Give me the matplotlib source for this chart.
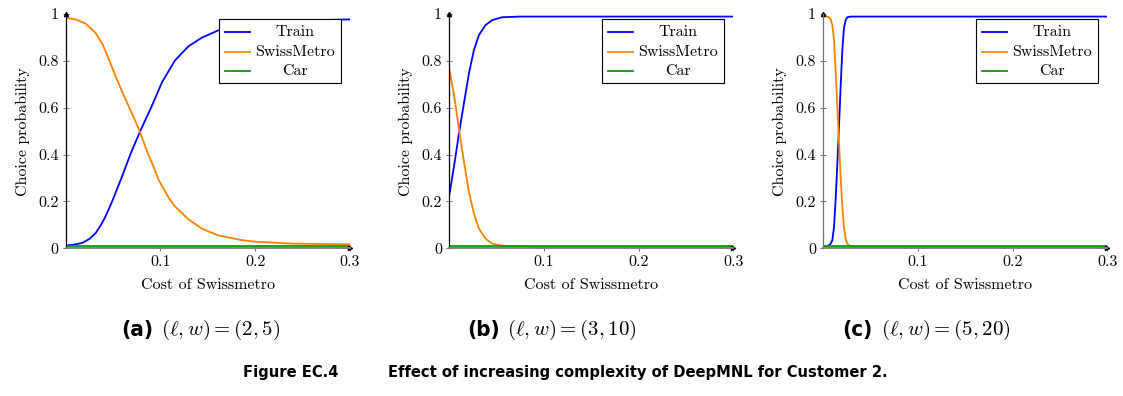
import matplotlib
matplotlib.use("Agg")
import matplotlib.pyplot as plt
from matplotlib.patches import Rectangle
from matplotlib.lines import Line2D

plt.rcParams["font.family"] = "serif"
plt.rcParams["font.serif"] = ["cmr10"]
plt.rcParams["mathtext.fontset"] = "cm"
plt.rcParams["axes.formatter.use_mathtext"] = True

# values, one list per panel / series
a_train_x = [0.0, 0.008, 0.0175, 0.025, 0.0316, 0.037, 0.042, 0.049, 0.0596, 0.0684,
             0.0786, 0.0905, 0.1018, 0.1155, 0.1295, 0.1436, 0.161, 0.2, 0.266, 0.3]
a_train = [0.012, 0.015, 0.023, 0.040, 0.065, 0.098, 0.136, 0.200, 0.308, 0.403,
           0.500, 0.604, 0.710, 0.803, 0.862, 0.899, 0.930, 0.958, 0.974, 0.977]
a_metro_x = [0.0, 0.0105, 0.021, 0.0316, 0.039, 0.0456, 0.0526, 0.0596, 0.0667, 0.0725,
             0.078, 0.086, 0.0925, 0.098, 0.1088, 0.1155, 0.1295, 0.1436, 0.161,
             0.1856, 0.2, 0.2386, 0.3]
a_metro = [0.984, 0.977, 0.959, 0.919, 0.870, 0.806, 0.735, 0.668, 0.604, 0.552,
           0.500, 0.412, 0.350, 0.293, 0.215, 0.178, 0.124, 0.084, 0.055,
           0.035, 0.028, 0.020, 0.017]

b_x = [0.0, 0.0053, 0.0105, 0.0158, 0.021, 0.0263, 0.0316, 0.0386, 0.0456,
       0.056, 0.074, 0.100, 0.300]
b_train = [0.219, 0.350, 0.490, 0.620, 0.746, 0.846, 0.910, 0.953, 0.974,
           0.986, 0.989, 0.989, 0.989]
b_metro = [0.772, 0.654, 0.511, 0.369, 0.241, 0.148, 0.084, 0.041, 0.020,
           0.011, 0.008, 0.007, 0.007]

c_x = [0.0, 0.0046, 0.0063, 0.0081, 0.0098, 0.0116, 0.0133, 0.0151, 0.0168,
       0.0186, 0.0204, 0.0221, 0.0239, 0.0256, 0.029, 0.034, 0.300]
c_train = [0.008, 0.010, 0.013, 0.020, 0.034, 0.090, 0.205, 0.360, 0.510,
           0.690, 0.846, 0.940, 0.974, 0.986, 0.989, 0.989, 0.989]
c_metro = [0.991, 0.989, 0.985, 0.977, 0.953, 0.889, 0.760, 0.604, 0.460,
           0.305, 0.177, 0.091, 0.041, 0.020, 0.008, 0.007, 0.007]

car_level = 0.008

panels = [
    ("(a)", r"$(\ell, w) = (2, 5)$", a_train_x, a_train, a_metro_x, a_metro),
    ("(b)", r"$(\ell, w) = (3, 10)$", b_x, b_train, b_x, b_metro),
    ("(c)", r"$(\ell, w) = (5, 20)$", c_x, c_train, c_x, c_metro),
]
series_names = ["Train", "SwissMetro", "Car"]
colors = ["#0000ff", "#ff8000", "#00a000"]

x_ticks = [0.1, 0.2, 0.3]
y_ticks = [0, 0.2, 0.4, 0.6, 0.8, 1]
y_ticklabels = ["0", "0.2", "0.4", "0.6", "0.8", "1"]

W, H = 1123, 396
fig = plt.figure(figsize=(W / 100, H / 100), dpi=100)

ax_lefts = [65.7, 449, 823]          # pixel positions of the axes
ax_w, ax_top, ax_bot = 284.3, 14, 248.3
tag_right = [153, 500, 873]
math_left = [161, 507, 881]
FS = 11.5
SANS = ["DejaVu Sans"]

for i, (tag, sub, tx, train, mx, metro) in enumerate(panels):
    ax = fig.add_axes([ax_lefts[i] / W, (H - ax_bot) / H, ax_w / W, (ax_bot - ax_top) / H])
    ax.plot(tx, train, color=colors[0], lw=1.3)
    ax.plot(mx, metro, color=colors[1], lw=1.3)
    ax.plot([0, 0.3], [car_level, car_level], color=colors[2], lw=1.3)
    ax.set_xlim(0, 0.3)
    ax.set_ylim(0, 1)
    ax.set_xticks(x_ticks)
    ax.set_xticklabels([str(t) for t in x_ticks])
    ax.set_yticks(y_ticks)
    ax.set_yticklabels(y_ticklabels)
    ax.tick_params(direction="inout", length=4, width=0.6, color="#555555",
                   labelsize=FS, pad=3)
    for s in ["top", "right"]:
        ax.spines[s].set_visible(False)
    ax.spines["left"].set_color("black" if i < 2 else "#707070")
    ax.spines["left"].set_linewidth(0.9)
    ax.spines["bottom"].set_color("#808080")
    ax.spines["bottom"].set_linewidth(1.4)
    ax.plot(1, 0, ">k", ms=3, transform=ax.transAxes, clip_on=False)
    ax.plot(0, 1, "^k", ms=3, transform=ax.transAxes, clip_on=False)
    ax.set_xlabel("Cost of Swissmetro", fontsize=FS, labelpad=7)
    ax.set_ylabel("Choice probability", fontsize=FS, labelpad=6)

    # legend box drawn by hand so the labels sit centred like pgfplots
    ax.add_patch(Rectangle((0.539, 0.7055), 0.429, 0.2735, transform=ax.transAxes,
                           facecolor="white", edgecolor="black", lw=0.8,
                           zorder=5, clip_on=False))
    for name, c, ry in zip(series_names, colors, [0.923, 0.838, 0.757]):
        ax.add_line(Line2D([0.560, 0.648], [ry, ry], color=c, lw=1.3,
                           transform=ax.transAxes, zorder=6))
        ax.text(0.805, ry, name, transform=ax.transAxes, ha="center", va="center",
                fontsize=FS, zorder=6)

    fig.text(tag_right[i] / W, (H - 330) / H, tag, ha="right", va="center",
             fontsize=16, fontweight="bold", family=SANS, fontstretch="condensed")
    fig.text(math_left[i] / W, (H - 330) / H, sub, ha="left", va="center", fontsize=15)

fig.text(243 / W, (H - 373) / H, "Figure EC.4", ha="left", va="center",
         fontsize=11.8, fontweight="bold", family=SANS, fontstretch="condensed")
fig.text(388 / W, (H - 373) / H, "Effect of increasing complexity of DeepMNL for Customer 2.",
         ha="left", va="center", fontsize=11.8, fontweight="bold",
         family=SANS, fontstretch="condensed")

fig.savefig("out.png", dpi=100)
